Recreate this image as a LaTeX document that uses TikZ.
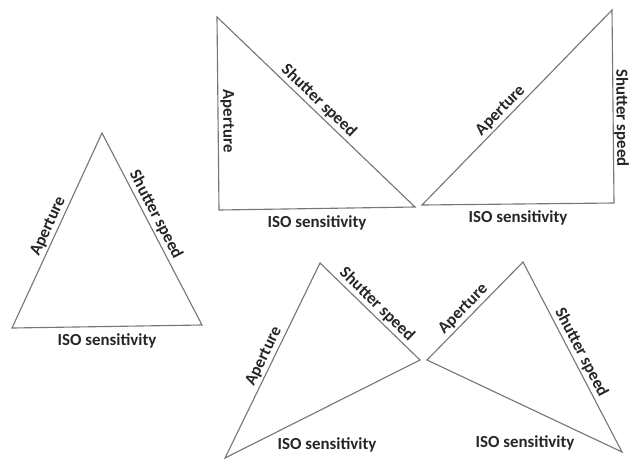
\documentclass[tikz,border=0pt]{standalone}
\usepackage{fontspec}
\setmainfont{Carlito}
\usepackage{tikz}
\usetikzlibrary{positioning, calc}

\definecolor{edgegray}{RGB}{118,118,118}
\definecolor{labelink}{RGB}{38,38,38}

\tikzset{
    side/.style={edgegray, line width=0.8pt, line join=miter},
    lbl/.style={labelink, font=\bfseries\fontsize{12}{14}\selectfont, inner sep=1.5pt},
}

\begin{document}
\begin{tikzpicture}[x=0.025cm, y=-0.025cm]
    \useasboundingbox (0,0) rectangle (629,462);

    % Left triangle
    \coordinate (t1l) at (12,328);
    \coordinate (t1t) at (102,133);
    \coordinate (t1r) at (202,325);
    \draw[side] (t1l) -- node[lbl, sloped, above, pos=0.5] (ap1) {Aperture} (t1t)
        -- node[lbl, sloped, above, pos=0.45] (sh1) {Shutter speed} (t1r)
        -- node[lbl, below=3pt, pos=0.5] (iso1) {ISO sensitivity} (t1l) -- cycle;

    % Top middle triangle
    \coordinate (t2b) at (219,210);
    \coordinate (t2t) at (217,17);
    \coordinate (t2r) at (415,207);
    \draw[side] (t2b) -- node[lbl, sloped, above, pos=0.46] (ap2) {Aperture} (t2t)
        -- node[lbl, sloped, above, pos=0.48] (sh2) {Shutter speed} (t2r)
        -- node[lbl, below=3pt, pos=0.5] (iso2) {ISO sensitivity} (t2b) -- cycle;

    % Top right triangle
    \coordinate (t3l) at (422,205);
    \coordinate (t3t) at (612,10);
    \coordinate (t3b) at (614,203);
    \draw[side] (t3l) -- node[lbl, sloped, above, pos=0.45] (ap3) {Aperture} (t3t)
        -- node[lbl, sloped, above, pos=0.56, inner sep=0.3pt] (sh3) {Shutter speed} (t3b)
        -- node[lbl, below=3pt, pos=0.5] (iso3) {ISO sensitivity} (t3l) -- cycle;

    % Bottom middle triangle
    \coordinate (t4l) at (225,458);
    \coordinate (t4t) at (320,263);
    \coordinate (t4r) at (420,360);
    \draw[side] (t4l) -- node[lbl, sloped, above, pos=0.5] (ap4) {Aperture} (t4t)
        -- node[lbl, sloped, above, pos=0.5] (sh4) {Shutter speed} (t4r) -- (t4l) -- cycle;
    \node[lbl] (iso4) at (327,445) {ISO sensitivity};

    % Bottom right triangle
    \coordinate (t5l) at (427,360);
    \coordinate (t5t) at (523,262);
    \coordinate (t5r) at (622,452);
    \draw[side] (t5l) -- node[lbl, sloped, above, pos=0.45] (ap5) {Aperture} (t5t)
        -- node[lbl, sloped, above, pos=0.5] (sh5) {Shutter speed} (t5r) -- (t5l) -- cycle;
    \node[lbl] (iso5) at (525,443) {ISO sensitivity};

\end{tikzpicture}
\end{document}
